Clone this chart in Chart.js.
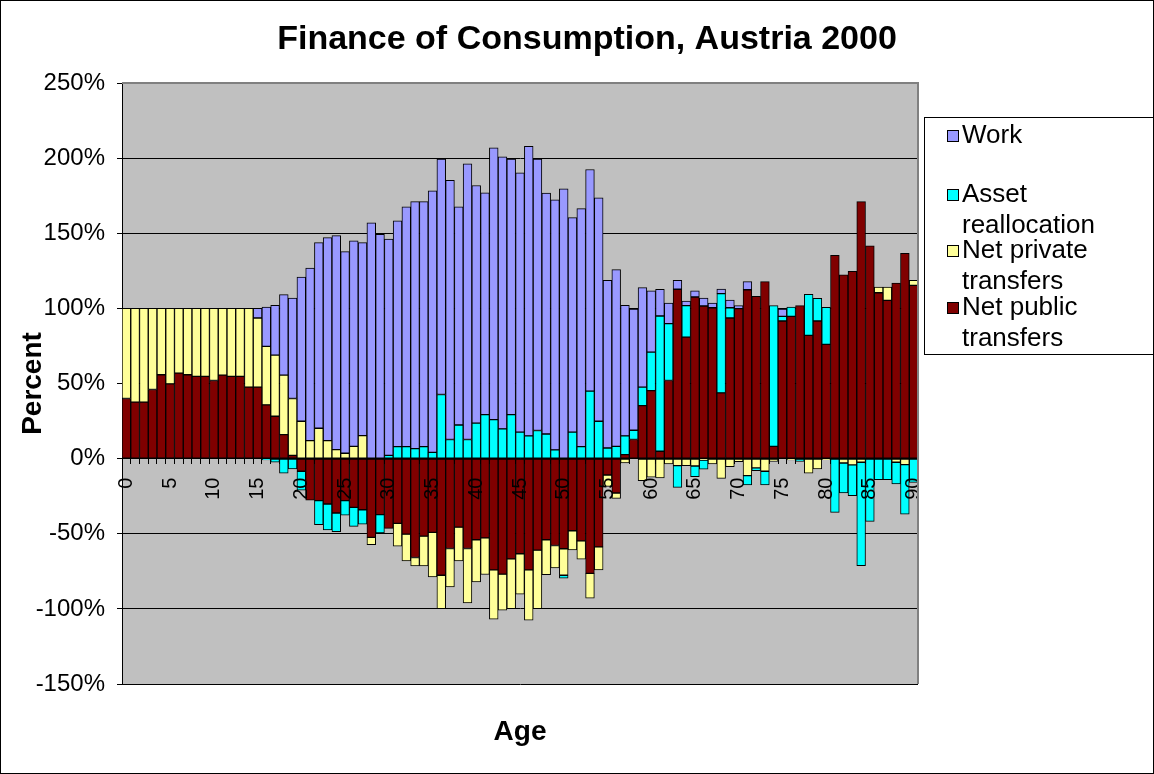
<!DOCTYPE html>
<html>
<head>
<meta charset="utf-8">
<script src="https://cdn.jsdelivr.net/npm/chart.js@4.4.1/dist/chart.umd.min.js"></script>
<style>
  body { margin: 0; background: #fff; }
  #wrap { width: 1154px; height: 774px; }
</style>
</head>
<body>
<div id="wrap"><canvas id="financeChart" width="1154" height="774"></canvas></div>
<script>
// Ages 0..90
const ages = [];
for (let a = 0; a <= 90; a++) ages.push(a);

// Net public transfers (% of consumption)
const publicTransfers = [
  40, 37.6, 37.6, 46, 55.8, 49.8, 56.9, 55.8, 54.7, 54.7,
  52, 55.6, 54.7, 54.7, 47.6, 47.6, 35.8, 28.2, 16, 2.2,
  -8.4, -27.6, -28, -30.2, -36.2, -28, -32.4, -34, -52.4, -37.3,
  -46.4, -43.1, -50.2, -65.8, -51.6, -49.1, -77.6, -59.8, -45.6, -59.8,
  -54, -52.7, -74, -76.9, -66.7, -63.3, -74, -60.9, -54, -57.8,
  -60, -48, -54.7, -76.4, -58.7, -10.9, -22.9, 2.7, 12.7, 35.3,
  45.3, 4.9, 52, 112.7, 80.9, 107.6, 101.6, 100.4, 43.8, 93.6,
  99.8, 112.4, 108, 117.8, 8.2, 91.6, 94.7, 101.8, 82, 91.6,
  76, 135.3, 122.4, 124.7, 171.1, 141.6, 110.4, 105.3, 116.9, 136.7,
  115.3
];

// Net private transfers
const privateTransfers = [
  60, 62.4, 62.4, 54, 44.2, 50.2, 43.1, 44.2, 45.3, 45.3,
  48, 44.4, 45.3, 45.3, 52.4, 46, 38.9, 40.7, 39.6, 37.8,
  24.9, 12, 20.2, 12, 6, 3.6, 8.2, 15.3, -4.9, 0,
  0, -15.1, -17.8, -5.6, -19.8, -29.6, -22.2, -25.6, -22.4, -36.2,
  -28, -24.4, -32.9, -24, -33.1, -26.9, -33.6, -38.9, -23.3, -14.9,
  -17.6, -12.7, -12.2, -16.4, -15.3, -7.6, -3.6, -2.9, 0, -14.7,
  -12.4, -12.9, -3.6, -4.7, -4.7, -4.9, -1, -3.6, -13.1, -5.3,
  -2, -11.3, -6.2, -8.4, -1.8, 0, -0.9, 0, -9.6, -6.9,
  -0.7, 0, -2.9, -4.2, -2.4, 0, 3.8, 8.9, -2.4, -4,
  3.4
];

// Asset reallocation
const assetRealloc = [
  0, 0, 0, 0, 0, 0, 0, 0, 0, 0,
  0, 0, 0, 0, 0, 0, -0.9, -2.4, -9.6, -6.9,
  -12.6, 0, -16, -17.3, -12.4, -9.6, -12.7, -9.6, 0, -12.2,
  2.2, 8, 8, 6.7, 8, 4.2, 42.7, 12.7, 22.4, 12.7,
  23.6, 29.3, 26, 19.8, 29.3, 17.6, 15.1, 18.7, 16.4, 5.8,
  -2, 17.6, 8, 44.9, 24.9, 7.1, 8.2, 12.4, 6.2, 12.3,
  25.6, 90, 37.8, -14.4, 20.9, -7.1, -6, 0, 66, 6.8,
  0, -6.2, -1.8, -9.1, 93.6, 3.1, 6.2, -1.8, 27.3, 15.1,
  24.7, -35.8, -20, -20.4, -68.9, -41.8, -14, -14, -14.4, -32.9,
  -15.8
];

// Work (labour income)
const work = [
  0, 0, 0, 0, 0, 0, 0, 0, 0, 0,
  0, 0, 0, 0, 0, 6.4, 26.2, 33.1, 53.5, 66.9,
  96, 114.9, 123.6, 135.1, 142.4, 134.2, 136.7, 128.5, 156.9, 149.3,
  144, 150.2, 159.6, 164.4, 163.1, 174, 156.6, 172.6, 145.2, 183.5,
  158.2, 147.6, 180.9, 181.1, 170, 172.6, 192.7, 180.6, 160.3, 166.4,
  179.6, 142.8, 158.4, 147.5, 148.7, 111.6, 117.6, 86.9, 80.7, 66.2,
  40.7, 17.8, 13.8, 6, 3.1, 4, 5.3, 3.2, 3.1, 5.2,
  2, 5.4, 0, 0, 0, 4.9, 0, 0, 0, 0,
  0, 0, 0, 0, 0, 0, 0, 0, 0, 0,
  0
];

const FONT = 'Arial, "Liberation Sans", sans-serif';

const colors = {
  work: '#9999FF',
  asset: '#00FFFF',
  priv: '#FFFF99',
  pub: '#800000'
};

// legend entries (top to bottom as in the original)
const legendItems = [
  { lines: ['Work'], color: colors.work },
  { lines: ['Asset', 'reallocation'], color: colors.asset },
  { lines: ['Net private', 'transfers'], color: colors.priv },
  { lines: ['Net public', 'transfers'], color: colors.pub }
];

// grey plot background, frame, title and legend
const decorPlugin = {
  id: 'decor',
  beforeDraw(chart) {
    const { ctx, chartArea: a } = chart;
    ctx.save();
    ctx.fillStyle = '#fff';
    ctx.fillRect(0, 0, chart.width, chart.height);
    ctx.fillStyle = '#C0C0C0';
    ctx.fillRect(a.left, a.top, a.right - a.left, a.bottom - a.top);
    ctx.restore();
  },
  afterDraw(chart) {
    const { ctx, chartArea: a } = chart;
    ctx.save();
    // plot frame top/right
    ctx.strokeStyle = '#808080';
    ctx.lineWidth = 2;
    ctx.beginPath();
    ctx.moveTo(a.left, a.top);
    ctx.lineTo(a.right, a.top);
    ctx.lineTo(a.right, a.bottom);
    ctx.stroke();

    // outer border
    ctx.strokeStyle = '#000';
    ctx.lineWidth = 1;
    ctx.strokeRect(0.5, 0.5, chart.width - 1, chart.height - 1);

    // title
    ctx.fillStyle = '#000';
    ctx.font = 'bold 34px ' + FONT;
    ctx.textAlign = 'center';
    ctx.textBaseline = 'middle';
    ctx.fillText('Finance of Consumption, Austria 2000', 587, 40);

    // legend
    ctx.strokeStyle = '#000';
    ctx.strokeRect(924.5, 117.5, 240, 237);
    ctx.font = '26px ' + FONT;
    ctx.textAlign = 'left';
    const starts = [136, 195, 251, 308];
    legendItems.forEach((item, i) => {
      const y = starts[i];
      ctx.fillStyle = item.color;
      ctx.fillRect(947, y - 6, 12, 12);
      ctx.strokeStyle = '#000';
      ctx.strokeRect(947.5, y - 5.5, 11, 11);
      ctx.fillStyle = '#000';
      item.lines.forEach((t, j) => ctx.fillText(t, 962, y + j * 31));
    });
    ctx.restore();
  }
};

const barStyle = {
  borderColor: '#000',
  borderWidth: 1,
  borderSkipped: false,
  categoryPercentage: 1.0,
  barPercentage: 1.0,
  xAxisID: 'x',
  yAxisID: 'y'
};

new Chart(document.getElementById('financeChart').getContext('2d'), {
  type: 'bar',
  data: {
    labels: ages,
    datasets: [
      Object.assign({ label: 'Net public transfers', data: publicTransfers, backgroundColor: colors.pub }, barStyle),
      Object.assign({ label: 'Net private transfers', data: privateTransfers, backgroundColor: colors.priv }, barStyle),
      Object.assign({ label: 'Asset reallocation', data: assetRealloc, backgroundColor: colors.asset }, barStyle),
      Object.assign({ label: 'Work', data: work, backgroundColor: colors.work }, barStyle)
    ]
  },
  options: {
    responsive: false,
    animation: false,
    layout: { padding: { top: 83, right: 236, bottom: 0, left: 0 } },
    plugins: {
      legend: { display: false },
      tooltip: { enabled: false },
      title: { display: false }
    },
    scales: {
      x: {
        stacked: true,
        position: { y: 0 },
        offset: true,
        ticks: {
          z: 1,
          autoSkip: false,
          minRotation: 90,
          maxRotation: 90,
          padding: 14,
          color: '#000',
          font: { size: 20, family: FONT },
          callback: function(v, i) {
            return i % 5 === 0 ? String(ages[i]) : '';
          }
        },
        grid: { drawOnChartArea: false, tickLength: 5, tickColor: '#000', offset: true },
        border: { color: '#000', width: 1 }
      },
      x2: {
        type: 'category',
        position: 'bottom',
        labels: ages,
        afterFit: function(s) { s.height = 90; },
        ticks: { display: false },
        grid: { display: false },
        border: { display: false },
        title: {
          display: true,
          text: 'Age',
          color: '#000',
          font: { size: 28, weight: 'bold', family: FONT },
          padding: { top: 0, bottom: 25 }
        }
      },
      y: {
        stacked: true,
        min: -150,
        max: 250,
        afterFit: function(s) { s.width = 122; },
        ticks: {
          stepSize: 50,
          padding: 12,
          color: '#000',
          font: { size: 24, family: FONT },
          callback: v => v + '%'
        },
        grid: { color: '#000', tickLength: 5, tickColor: '#000' },
        border: { color: '#000' },
        title: {
          display: true,
          text: 'Percent',
          color: '#000',
          font: { size: 28, weight: 'bold', family: FONT },
          padding: { top: 16, bottom: 0 }
        }
      }
    }
  },
  plugins: [decorPlugin]
});
</script>
</body>
</html>
